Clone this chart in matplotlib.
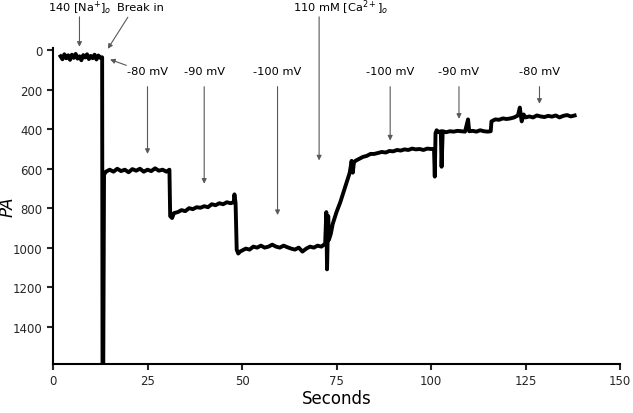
#!/usr/bin/env python3

import matplotlib
matplotlib.use("Agg")
import matplotlib.pyplot as plt

time_s = [2.0, 2.5, 3.0, 3.5, 4.0, 4.5, 5.0, 5.5, 6.0, 6.5, 7.0, 7.5, 8.0,
          8.5, 9.0, 9.5, 10.0, 10.5, 11.0, 11.5, 12.0, 12.5, 13.0,
          13.1, 13.3,
          13.5, 14, 15, 16, 17, 18, 19, 20, 21, 22, 23, 24, 25, 26, 27, 28,
          29, 30, 30.8,
          31, 31.5, 32, 33, 34, 35, 36, 37, 38, 39, 40, 41, 42, 43, 44, 45,
          46, 47, 47.8, 48, 48.3, 48.6,
          49, 49.5, 50, 51, 52, 53, 54, 55, 56, 57, 58, 59, 60, 61, 62, 63,
          64, 65, 66, 67, 68, 69, 70, 71, 72, 72.3, 72.5, 72.8, 73, 73.5,
          74, 75, 76, 77, 78, 78.5, 79, 79.3, 79.6, 80, 81, 82, 83, 84, 85,
          86, 87, 88, 89, 90, 91, 92, 93, 94, 95, 96, 97, 98, 99, 100, 100.8,
          101, 101.2, 101.5, 102, 102.6, 102.8, 103.1, 104, 105, 106, 107,
          108, 109, 109.8, 110.1, 111, 112, 113, 114, 115, 115.8,
          116, 117, 118, 119, 120, 121, 122, 123, 123.5, 123.8, 124, 124.5,
          125, 126, 127, 128, 129, 130, 131, 132, 133, 134, 135, 136, 137,
          138]
current_pa = [30, 45, 20, 40, 25, 48, 22, 38, 18, 42, 30, 50, 24,
              36, 20, 44, 28, 40, 22, 46, 26, 38, 35,
              1590, 1590,
              630, 615, 605, 615, 600, 612, 605, 618, 602, 610, 600, 615,
              605, 612, 598, 610, 605, 615, 605,
              840, 850, 825, 820, 810, 815, 800, 805, 795, 798, 790, 795,
              780, 785, 775, 780, 770, 775, 770, 730, 775, 1010,
              1030, 1020, 1015, 1005, 1010, 995, 1000, 990, 1000, 995, 985,
              995, 1000, 990, 998, 1005, 1010, 1000, 1020, 1005, 995, 1000,
              990, 995, 980, 820, 1110, 840, 960, 930,
              880, 820, 770, 710, 650, 620, 560, 620, 570, 560, 550, 540,
              535, 525, 525, 520, 515, 518, 510, 512, 505, 508, 502, 505,
              498, 502, 500, 505, 498, 500, 500,
              640, 420, 405, 415, 410, 590, 410, 415, 410, 412, 408,
              410, 412, 350, 410, 408, 412, 405, 410, 412, 410,
              360, 350, 352, 345, 348, 345, 340, 330, 290, 335, 360, 325,
              340, 335, 340, 330, 335, 338, 332, 336, 330, 340, 332, 328,
              335, 330]

# annotations: label, text position, arrow tails and tips
ann_labels = ["140 [Na$^{+}$]$_{o}$", "Break in", "-80 mV", "-90 mV",
              "-100 mV", "110 mM [Ca$^{2+}$]$_{o}$", "-100 mV", "-90 mV",
              "-80 mV"]
ann_text_x = [7.0, 23.0, 25.0, 40.0, 59.4, 76.0, 89.2, 107.4, 128.7]
ann_text_y = [-220, -220, 104, 104, 104, -220, 104, 104, 104]
ann_arrows = [[((7.0, -170), (7.0, -18))],
              [((19.8, -168), (14.5, -8))],
              [((19.4, 76), (15.1, 46)), ((25.0, 184), (25.0, 525))],
              [((40.0, 184), (40.0, 676))],
              [((59.4, 184), (59.4, 835))],
              [((70.4, -170), (70.4, 558))],
              [((89.2, 184), (89.2, 457))],
              [((107.4, 184), (107.4, 347))],
              [((128.7, 184), (128.7, 271))]]

fig = plt.figure(figsize=(6.33, 4.14), dpi=100)
ax = fig.add_axes([53 / 633, 1 - 365 / 414, 567 / 633, 316 / 414])

ax.plot(time_s, current_pa, color="black", lw=2.8, solid_joinstyle="round")

ax.set_xlim(0, 150)
ax.set_ylim(1590, -12)
ax.set_xticks([0, 25, 50, 75, 100, 125, 150])
ax.set_yticks([0, 200, 400, 600, 800, 1000, 1200, 1400])
ax.spines["top"].set_visible(False)
ax.spines["right"].set_visible(False)
ax.spines["left"].set_linewidth(1.5)
ax.spines["bottom"].set_linewidth(1.5)
ax.tick_params(width=1.5, length=4, labelsize=8.5, colors="0.15")
ax.set_xlabel("Seconds", fontsize=12, labelpad=1)
ax.set_ylabel("PA", fontsize=12, style="italic")
ax.yaxis.set_label_coords(-0.064, 0.5)

arrow = dict(arrowstyle="-|>", color="0.35", lw=0.8, mutation_scale=7,
             shrinkA=0, shrinkB=0)
for label, tx, ty, arrows in zip(ann_labels, ann_text_x, ann_text_y,
                                 ann_arrows):
    ax.text(tx, ty, label, ha="center", va="center", fontsize=8.2,
            clip_on=False)
    for start, tip in arrows:
        ax.annotate("", xy=tip, xytext=start, arrowprops=arrow,
                    annotation_clip=False)

fig.savefig("out.png", dpi=100)
